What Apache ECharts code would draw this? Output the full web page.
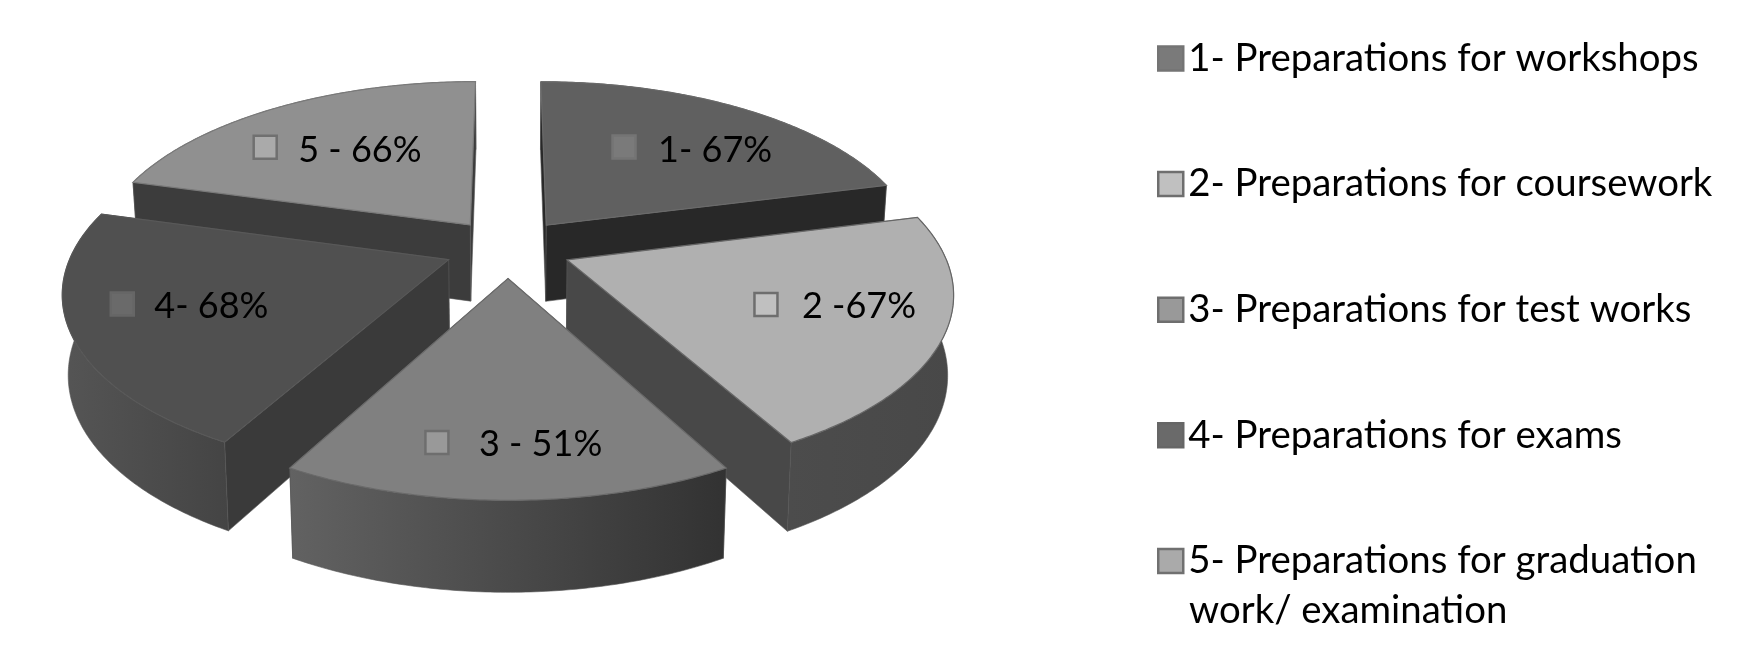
<!DOCTYPE html>
<html>
<head>
<meta charset="utf-8">
<style>html,body{margin:0;padding:0;background:#fff}#c{width:1743px;height:672px}</style>
<script src="https://cdn.jsdelivr.net/npm/echarts@6/dist/echarts.min.js"></script>
</head>
<body>
<div id="c"></div>
<script>
// ---- data ----
const values = [67, 67, 51, 68, 66];
const legendNames = [
  '1- Preparations for workshops',
  '2- Preparations for coursework',
  '3- Preparations for test works',
  '4- Preparations for exams',
  '5- Preparations for graduation'
];
const legendContinuation = 'work/ examination';
const labelPrefixes = ['1- ', '2 -', '3 - ', '4- ', '5 - '];

// ---- styles ----
const topColors   = ['#606060', '#b0b0b0', '#808080', '#505050', '#909090'];
const topStrokes  = ['#6a6a6a', '#666666', '#6a6a6a', '#585858', '#7a7a7a'];
const faceColors  = ['#282828', '#484848', '#484848', '#3a3a3a', '#3c3c3c'];
const arcFrom     = ['#3a3a3a', '#4c4c4c', '#626262', '#555555', '#3c3c3c'];
const arcTo       = ['#3a3a3a', '#484848', '#323232', '#444444', '#3c3c3c'];
const swatchFill  = ['#7a7a7a', '#c0c0c0', '#999999', '#6a6a6a', '#aaaaaa'];
const swatchLine  = ['#747474', '#6e6e6e', '#6e6e6e', '#666666', '#707070'];

// ---- projection of the pie (unit radius) onto the page ----
const P = {
  cx: 508, A: 375, Ab: 370,
  cyTop: 248, Btop: 174,
  cyBot: 325.5, Bbot: 184,
  persp: 0.165, explode: 0.17
};
// marker position relative to each slice's apex, in pie units
const labelDu = [0.238, 0.497, -0.16, -0.82, -0.613];
const labelDv = [-0.508, 0.24, 0.774, 0.24, -0.505];
const labelGap = [34, 36, 42, 32, 33];
const labelDy = [3, 2, 2, 2, 3];
const drawOrder = [0, 4, 1, 3, 2];

const FONT = 'Lato';
const total = values.reduce((a, b) => a + b, 0);

function projTop(u, v) {
  const w = 1 / (1 - P.persp * v);
  return [P.cx + P.A * u * w, P.cyTop + P.Btop * v * w];
}
function projBot(u, v) {
  const w = 1 / (1 - P.persp * v);
  return [P.cx + P.Ab * u * w, P.cyBot + P.Bbot * v * w];
}

function renderSlice(index) {
  return function (params, api) {
    const value = api.value(0);
    let before = 0;
    for (let i = 0; i < index; i++) before += values[i];
    const a0 = before / total * Math.PI * 2;
    const a1 = a0 + value / total * Math.PI * 2;
    const mid = (a0 + a1) / 2;
    const u0 = P.explode * Math.sin(mid), v0 = -P.explode * Math.cos(mid);
    const steps = Math.ceil((a1 - a0) * 90);
    const rim = [];
    for (let s = 0; s <= steps; s++) {
      const a = a0 + (a1 - a0) * s / steps;
      rim.push([u0 + Math.sin(a), v0 - Math.cos(a)]);
    }
    const first = rim[0], last = rim[rim.length - 1];
    const face = (pts) => pts.map(p => projTop(p[0], p[1]))
      .concat(pts.slice().reverse().map(p => projBot(p[0], p[1])));
    const meanV = (pts) => pts.reduce((t, p) => t + p[1], 0) / pts.length;
    const faces = [
      { pts: [[u0, v0], first], fill: faceColors[index] },
      { pts: [[u0, v0], last], fill: faceColors[index] },
      { pts: rim, fill: { type: 'linear', x: 0, y: 0, x2: 1, y2: 0, colorStops: [
          { offset: 0, color: arcFrom[index] }, { offset: 1, color: arcTo[index] }] } }
    ].sort((a, b) => meanV(a.pts) - meanV(b.pts));
    const children = faces.map(f => ({
      type: 'polygon',
      shape: { points: face(f.pts) },
      style: { fill: f.fill, stroke: '#555555', lineWidth: 0.6 }
    }));
    const topPts = [[u0, v0]].concat(rim).map(p => projTop(p[0], p[1]));
    children.push({
      type: 'polygon',
      shape: { points: topPts },
      style: { fill: topColors[index], stroke: topStrokes[index], lineWidth: 1.2 }
    });
    const m = projTop(u0 + labelDu[index], v0 + labelDv[index]);
    children.push({
      type: 'rect',
      shape: { x: m[0] - 11.5, y: m[1] - 11.5, width: 23, height: 23 },
      style: { fill: swatchFill[index], stroke: swatchLine[index], lineWidth: 2.5 }
    });
    children.push({
      type: 'text',
      style: {
        x: m[0] + labelGap[index], y: m[1] + labelDy[index],
        text: labelPrefixes[index] + value + '%',
        font: '36px ' + FONT, fill: '#000000',
        textAlign: 'left', textVerticalAlign: 'middle'
      }
    });
    return { type: 'group', children: children };
  };
}

const chart = echarts.init(document.getElementById('c'), null, { renderer: 'canvas' });
chart.setOption({
  animation: false,
  backgroundColor: '#ffffff',
  legend: {
    orient: 'vertical',
    left: 1152,
    top: 33.5,
    itemWidth: 25,
    itemHeight: 24,
    itemGap: 85.6,
    selectedMode: false,
    textStyle: { fontFamily: FONT, fontSize: 38.4, color: '#000000', lineHeight: 40, padding: [0, 0, 0, 0] },
    data: legendNames.map((n, i) => ({
      name: n,
      icon: 'rect',
      itemStyle: { color: swatchFill[i], borderColor: swatchLine[i], borderWidth: 2.5 }
    }))
  },
  graphic: [{
    type: 'text',
    left: 1189,
    top: 592,
    style: { text: legendContinuation, font: '38.4px ' + FONT, fill: '#000000' }
  }],
  series: drawOrder.map((i, order) => ({
    type: 'custom',
    name: legendNames[i],
    coordinateSystem: 'none',
    z: 2 + order,
    silent: true,
    itemStyle: { color: swatchFill[i] },
    renderItem: renderSlice(i),
    data: [[values[i]]]
  }))
});
</script>
</body>
</html>
